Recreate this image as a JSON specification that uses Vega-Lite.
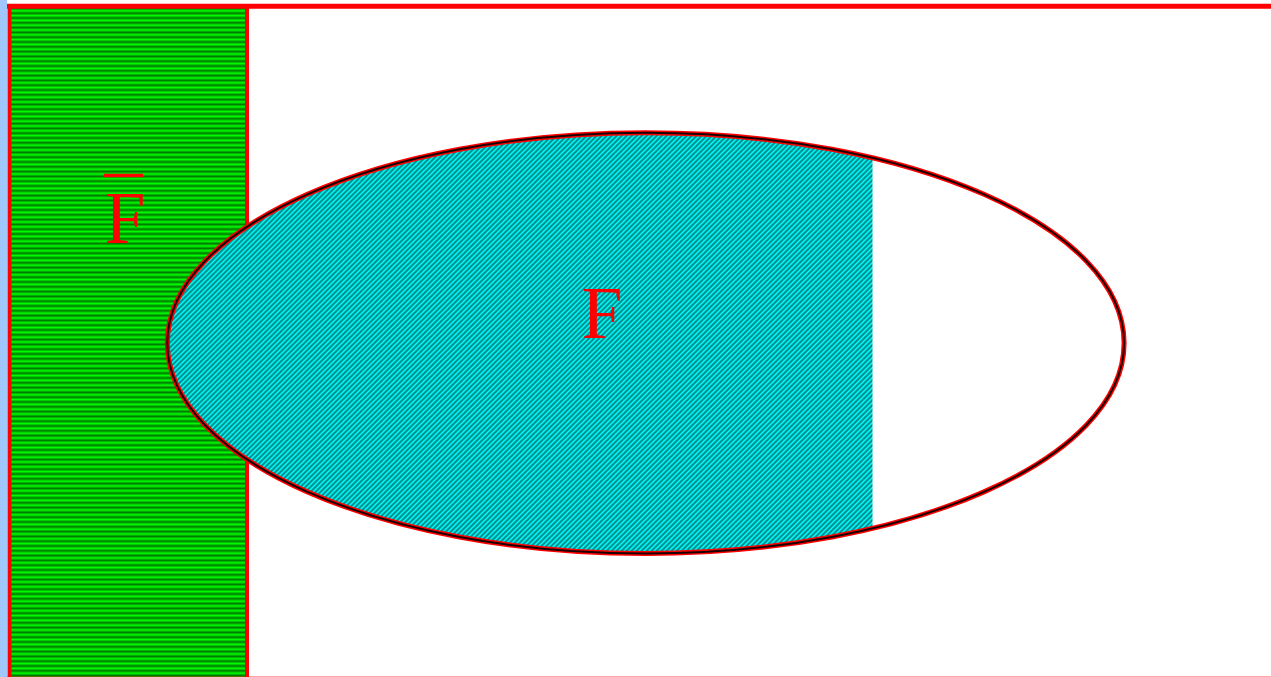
{
"$schema":"https://vega.github.io/schema/vega-lite/v6.json",
"width":1271,"height":677,
"autosize":{"type":"none"},
"padding":0,
"background":"white",
"config":{"view":{"stroke":null}},
"encoding":{
"x":{"field":"x","type":"quantitative","scale":{"domain":[0,1271],"nice":false,"zero":false},"axis":null},
"y":{"field":"y","type":"quantitative","scale":{"domain":[0,677],"nice":false,"zero":false,"reverse":true},"axis":null}
},
"layer":[
{"data":{"values":[{"x":0,"x2":7,"y":0,"y2":677}]},
"mark":{"type":"rect","fill":"#a0c8ff","strokeWidth":0},
"encoding":{"x2":{"field":"x2"},"y2":{"field":"y2"}}},
{"data":{"values":[{"x":9.5,"x2":247,"y":6,"y2":679}]},
"mark":{"type":"rect","stroke":"#ff0000","strokeWidth":4,"fill":{"gradient":"linear","x1":0,"y1":0,"x2":0,"y2":1.4264,"stops":[
{"offset":0,"color":"#0f0"},{"offset":0.0025,"color":"#070"},{"offset":0.005,"color":"#0f0"},{"offset":0.0075,"color":"#070"},
{"offset":0.01,"color":"#0f0"},{"offset":0.0125,"color":"#070"},{"offset":0.015,"color":"#0f0"},{"offset":0.0175,"color":"#070"},
{"offset":0.02,"color":"#0f0"},{"offset":0.0225,"color":"#070"},{"offset":0.025,"color":"#0f0"},{"offset":0.0275,"color":"#070"},
{"offset":0.03,"color":"#0f0"},{"offset":0.0325,"color":"#070"},{"offset":0.035,"color":"#0f0"},{"offset":0.0375,"color":"#070"},
{"offset":0.04,"color":"#0f0"},{"offset":0.0425,"color":"#070"},{"offset":0.045,"color":"#0f0"},{"offset":0.0475,"color":"#070"},
{"offset":0.05,"color":"#0f0"},{"offset":0.0525,"color":"#070"},{"offset":0.055,"color":"#0f0"},{"offset":0.0575,"color":"#070"},
{"offset":0.06,"color":"#0f0"},{"offset":0.0625,"color":"#070"},{"offset":0.065,"color":"#0f0"},{"offset":0.0675,"color":"#070"},
{"offset":0.07,"color":"#0f0"},{"offset":0.0725,"color":"#070"},{"offset":0.075,"color":"#0f0"},{"offset":0.0775,"color":"#070"},
{"offset":0.08,"color":"#0f0"},{"offset":0.0825,"color":"#070"},{"offset":0.085,"color":"#0f0"},{"offset":0.0875,"color":"#070"},
{"offset":0.09,"color":"#0f0"},{"offset":0.0925,"color":"#070"},{"offset":0.095,"color":"#0f0"},{"offset":0.0975,"color":"#070"},
{"offset":0.1,"color":"#0f0"},{"offset":0.1025,"color":"#070"},{"offset":0.105,"color":"#0f0"},{"offset":0.1075,"color":"#070"},
{"offset":0.11,"color":"#0f0"},{"offset":0.1125,"color":"#070"},{"offset":0.115,"color":"#0f0"},{"offset":0.1175,"color":"#070"},
{"offset":0.12,"color":"#0f0"},{"offset":0.1225,"color":"#070"},{"offset":0.125,"color":"#0f0"},{"offset":0.1275,"color":"#070"},
{"offset":0.13,"color":"#0f0"},{"offset":0.1325,"color":"#070"},{"offset":0.135,"color":"#0f0"},{"offset":0.1375,"color":"#070"},
{"offset":0.14,"color":"#0f0"},{"offset":0.1425,"color":"#070"},{"offset":0.145,"color":"#0f0"},{"offset":0.1475,"color":"#070"},
{"offset":0.15,"color":"#0f0"},{"offset":0.1525,"color":"#070"},{"offset":0.155,"color":"#0f0"},{"offset":0.1575,"color":"#070"},
{"offset":0.16,"color":"#0f0"},{"offset":0.1625,"color":"#070"},{"offset":0.165,"color":"#0f0"},{"offset":0.1675,"color":"#070"},
{"offset":0.17,"color":"#0f0"},{"offset":0.1725,"color":"#070"},{"offset":0.175,"color":"#0f0"},{"offset":0.1775,"color":"#070"},
{"offset":0.18,"color":"#0f0"},{"offset":0.1825,"color":"#070"},{"offset":0.185,"color":"#0f0"},{"offset":0.1875,"color":"#070"},
{"offset":0.19,"color":"#0f0"},{"offset":0.1925,"color":"#070"},{"offset":0.195,"color":"#0f0"},{"offset":0.1975,"color":"#070"},
{"offset":0.2,"color":"#0f0"},{"offset":0.2025,"color":"#070"},{"offset":0.205,"color":"#0f0"},{"offset":0.2075,"color":"#070"},
{"offset":0.21,"color":"#0f0"},{"offset":0.2125,"color":"#070"},{"offset":0.215,"color":"#0f0"},{"offset":0.2175,"color":"#070"},
{"offset":0.22,"color":"#0f0"},{"offset":0.2225,"color":"#070"},{"offset":0.225,"color":"#0f0"},{"offset":0.2275,"color":"#070"},
{"offset":0.23,"color":"#0f0"},{"offset":0.2325,"color":"#070"},{"offset":0.235,"color":"#0f0"},{"offset":0.2375,"color":"#070"},
{"offset":0.24,"color":"#0f0"},{"offset":0.2425,"color":"#070"},{"offset":0.245,"color":"#0f0"},{"offset":0.2475,"color":"#070"},
{"offset":0.25,"color":"#0f0"},{"offset":0.2525,"color":"#070"},{"offset":0.255,"color":"#0f0"},{"offset":0.2575,"color":"#070"},
{"offset":0.26,"color":"#0f0"},{"offset":0.2625,"color":"#070"},{"offset":0.265,"color":"#0f0"},{"offset":0.2675,"color":"#070"},
{"offset":0.27,"color":"#0f0"},{"offset":0.2725,"color":"#070"},{"offset":0.275,"color":"#0f0"},{"offset":0.2775,"color":"#070"},
{"offset":0.28,"color":"#0f0"},{"offset":0.2825,"color":"#070"},{"offset":0.285,"color":"#0f0"},{"offset":0.2875,"color":"#070"},
{"offset":0.29,"color":"#0f0"},{"offset":0.2925,"color":"#070"},{"offset":0.295,"color":"#0f0"},{"offset":0.2975,"color":"#070"},
{"offset":0.3,"color":"#0f0"},{"offset":0.3025,"color":"#070"},{"offset":0.305,"color":"#0f0"},{"offset":0.3075,"color":"#070"},
{"offset":0.31,"color":"#0f0"},{"offset":0.3125,"color":"#070"},{"offset":0.315,"color":"#0f0"},{"offset":0.3175,"color":"#070"},
{"offset":0.32,"color":"#0f0"},{"offset":0.3225,"color":"#070"},{"offset":0.325,"color":"#0f0"},{"offset":0.3275,"color":"#070"},
{"offset":0.33,"color":"#0f0"},{"offset":0.3325,"color":"#070"},{"offset":0.335,"color":"#0f0"},{"offset":0.3375,"color":"#070"},
{"offset":0.34,"color":"#0f0"},{"offset":0.3425,"color":"#070"},{"offset":0.345,"color":"#0f0"},{"offset":0.3475,"color":"#070"},
{"offset":0.35,"color":"#0f0"},{"offset":0.3525,"color":"#070"},{"offset":0.355,"color":"#0f0"},{"offset":0.3575,"color":"#070"},
{"offset":0.36,"color":"#0f0"},{"offset":0.3625,"color":"#070"},{"offset":0.365,"color":"#0f0"},{"offset":0.3675,"color":"#070"},
{"offset":0.37,"color":"#0f0"},{"offset":0.3725,"color":"#070"},{"offset":0.375,"color":"#0f0"},{"offset":0.3775,"color":"#070"},
{"offset":0.38,"color":"#0f0"},{"offset":0.3825,"color":"#070"},{"offset":0.385,"color":"#0f0"},{"offset":0.3875,"color":"#070"},
{"offset":0.39,"color":"#0f0"},{"offset":0.3925,"color":"#070"},{"offset":0.395,"color":"#0f0"},{"offset":0.3975,"color":"#070"},
{"offset":0.4,"color":"#0f0"},{"offset":0.4025,"color":"#070"},{"offset":0.405,"color":"#0f0"},{"offset":0.4075,"color":"#070"},
{"offset":0.41,"color":"#0f0"},{"offset":0.4125,"color":"#070"},{"offset":0.415,"color":"#0f0"},{"offset":0.4175,"color":"#070"},
{"offset":0.42,"color":"#0f0"},{"offset":0.4225,"color":"#070"},{"offset":0.425,"color":"#0f0"},{"offset":0.4275,"color":"#070"},
{"offset":0.43,"color":"#0f0"},{"offset":0.4325,"color":"#070"},{"offset":0.435,"color":"#0f0"},{"offset":0.4375,"color":"#070"},
{"offset":0.44,"color":"#0f0"},{"offset":0.4425,"color":"#070"},{"offset":0.445,"color":"#0f0"},{"offset":0.4475,"color":"#070"},
{"offset":0.45,"color":"#0f0"},{"offset":0.4525,"color":"#070"},{"offset":0.455,"color":"#0f0"},{"offset":0.4575,"color":"#070"},
{"offset":0.46,"color":"#0f0"},{"offset":0.4625,"color":"#070"},{"offset":0.465,"color":"#0f0"},{"offset":0.4675,"color":"#070"},
{"offset":0.47,"color":"#0f0"},{"offset":0.4725,"color":"#070"},{"offset":0.475,"color":"#0f0"},{"offset":0.4775,"color":"#070"},
{"offset":0.48,"color":"#0f0"},{"offset":0.4825,"color":"#070"},{"offset":0.485,"color":"#0f0"},{"offset":0.4875,"color":"#070"},
{"offset":0.49,"color":"#0f0"},{"offset":0.4925,"color":"#070"},{"offset":0.495,"color":"#0f0"},{"offset":0.4975,"color":"#070"},
{"offset":0.5,"color":"#0f0"},{"offset":0.5025,"color":"#070"},{"offset":0.505,"color":"#0f0"},{"offset":0.5075,"color":"#070"},
{"offset":0.51,"color":"#0f0"},{"offset":0.5125,"color":"#070"},{"offset":0.515,"color":"#0f0"},{"offset":0.5175,"color":"#070"},
{"offset":0.52,"color":"#0f0"},{"offset":0.5225,"color":"#070"},{"offset":0.525,"color":"#0f0"},{"offset":0.5275,"color":"#070"},
{"offset":0.53,"color":"#0f0"},{"offset":0.5325,"color":"#070"},{"offset":0.535,"color":"#0f0"},{"offset":0.5375,"color":"#070"},
{"offset":0.54,"color":"#0f0"},{"offset":0.5425,"color":"#070"},{"offset":0.545,"color":"#0f0"},{"offset":0.5475,"color":"#070"},
{"offset":0.55,"color":"#0f0"},{"offset":0.5525,"color":"#070"},{"offset":0.555,"color":"#0f0"},{"offset":0.5575,"color":"#070"},
{"offset":0.56,"color":"#0f0"},{"offset":0.5625,"color":"#070"},{"offset":0.565,"color":"#0f0"},{"offset":0.5675,"color":"#070"},
{"offset":0.57,"color":"#0f0"},{"offset":0.5725,"color":"#070"},{"offset":0.575,"color":"#0f0"},{"offset":0.5775,"color":"#070"},
{"offset":0.58,"color":"#0f0"},{"offset":0.5825,"color":"#070"},{"offset":0.585,"color":"#0f0"},{"offset":0.5875,"color":"#070"},
{"offset":0.59,"color":"#0f0"},{"offset":0.5925,"color":"#070"},{"offset":0.595,"color":"#0f0"},{"offset":0.5975,"color":"#070"},
{"offset":0.6,"color":"#0f0"},{"offset":0.6025,"color":"#070"},{"offset":0.605,"color":"#0f0"},{"offset":0.6075,"color":"#070"},
{"offset":0.61,"color":"#0f0"},{"offset":0.6125,"color":"#070"},{"offset":0.615,"color":"#0f0"},{"offset":0.6175,"color":"#070"},
{"offset":0.62,"color":"#0f0"},{"offset":0.6225,"color":"#070"},{"offset":0.625,"color":"#0f0"},{"offset":0.6275,"color":"#070"},
{"offset":0.63,"color":"#0f0"},{"offset":0.6325,"color":"#070"},{"offset":0.635,"color":"#0f0"},{"offset":0.6375,"color":"#070"},
{"offset":0.64,"color":"#0f0"},{"offset":0.6425,"color":"#070"},{"offset":0.645,"color":"#0f0"},{"offset":0.6475,"color":"#070"},
{"offset":0.65,"color":"#0f0"},{"offset":0.6525,"color":"#070"},{"offset":0.655,"color":"#0f0"},{"offset":0.6575,"color":"#070"},
{"offset":0.66,"color":"#0f0"},{"offset":0.6625,"color":"#070"},{"offset":0.665,"color":"#0f0"},{"offset":0.6675,"color":"#070"},
{"offset":0.67,"color":"#0f0"},{"offset":0.6725,"color":"#070"},{"offset":0.675,"color":"#0f0"},{"offset":0.6775,"color":"#070"},
{"offset":0.68,"color":"#0f0"},{"offset":0.6825,"color":"#070"},{"offset":0.685,"color":"#0f0"},{"offset":0.6875,"color":"#070"},
{"offset":0.69,"color":"#0f0"},{"offset":0.6925,"color":"#070"},{"offset":0.695,"color":"#0f0"},{"offset":0.6975,"color":"#070"},
{"offset":0.7,"color":"#0f0"},{"offset":0.7025,"color":"#070"}
]}},
"encoding":{"x2":{"field":"x2"},"y2":{"field":"y2"}}},
{"data":{"values":[{"x":645.7,"y":343.1}]},
"mark":{"type":"point","shape":"M0.4741,-0.3872A1,0.4398,0,1,0,0.4741,0.3872Z","size":915466,"filled":true,"opacity":1,"strokeWidth":0,"fill":{"gradient":"linear","x1":0,"y1":0,"x2":1.3071,"y2":0.78,"stops":[
{"offset":0,"color":"#0ff"},{"offset":0.002,"color":"#077"},{"offset":0.004,"color":"#0ff"},{"offset":0.006,"color":"#077"},{"offset":0.008,"color":"#0ff"},
{"offset":0.01,"color":"#077"},{"offset":0.012,"color":"#0ff"},{"offset":0.014,"color":"#077"},{"offset":0.016,"color":"#0ff"},{"offset":0.018,"color":"#077"},
{"offset":0.02,"color":"#0ff"},{"offset":0.022,"color":"#077"},{"offset":0.024,"color":"#0ff"},{"offset":0.026,"color":"#077"},{"offset":0.028,"color":"#0ff"},
{"offset":0.03,"color":"#077"},{"offset":0.032,"color":"#0ff"},{"offset":0.034,"color":"#077"},{"offset":0.036,"color":"#0ff"},{"offset":0.038,"color":"#077"},
{"offset":0.04,"color":"#0ff"},{"offset":0.042,"color":"#077"},{"offset":0.044,"color":"#0ff"},{"offset":0.046,"color":"#077"},{"offset":0.048,"color":"#0ff"},
{"offset":0.05,"color":"#077"},{"offset":0.052,"color":"#0ff"},{"offset":0.054,"color":"#077"},{"offset":0.056,"color":"#0ff"},{"offset":0.058,"color":"#077"},
{"offset":0.06,"color":"#0ff"},{"offset":0.062,"color":"#077"},{"offset":0.064,"color":"#0ff"},{"offset":0.066,"color":"#077"},{"offset":0.068,"color":"#0ff"},
{"offset":0.07,"color":"#077"},{"offset":0.072,"color":"#0ff"},{"offset":0.074,"color":"#077"},{"offset":0.076,"color":"#0ff"},{"offset":0.078,"color":"#077"},
{"offset":0.08,"color":"#0ff"},{"offset":0.082,"color":"#077"},{"offset":0.084,"color":"#0ff"},{"offset":0.086,"color":"#077"},{"offset":0.088,"color":"#0ff"},
{"offset":0.09,"color":"#077"},{"offset":0.092,"color":"#0ff"},{"offset":0.094,"color":"#077"},{"offset":0.096,"color":"#0ff"},{"offset":0.098,"color":"#077"},
{"offset":0.1,"color":"#0ff"},{"offset":0.102,"color":"#077"},{"offset":0.104,"color":"#0ff"},{"offset":0.106,"color":"#077"},{"offset":0.108,"color":"#0ff"},
{"offset":0.11,"color":"#077"},{"offset":0.112,"color":"#0ff"},{"offset":0.114,"color":"#077"},{"offset":0.116,"color":"#0ff"},{"offset":0.118,"color":"#077"},
{"offset":0.12,"color":"#0ff"},{"offset":0.122,"color":"#077"},{"offset":0.124,"color":"#0ff"},{"offset":0.126,"color":"#077"},{"offset":0.128,"color":"#0ff"},
{"offset":0.13,"color":"#077"},{"offset":0.132,"color":"#0ff"},{"offset":0.134,"color":"#077"},{"offset":0.136,"color":"#0ff"},{"offset":0.138,"color":"#077"},
{"offset":0.14,"color":"#0ff"},{"offset":0.142,"color":"#077"},{"offset":0.144,"color":"#0ff"},{"offset":0.146,"color":"#077"},{"offset":0.148,"color":"#0ff"},
{"offset":0.15,"color":"#077"},{"offset":0.152,"color":"#0ff"},{"offset":0.154,"color":"#077"},{"offset":0.156,"color":"#0ff"},{"offset":0.158,"color":"#077"},
{"offset":0.16,"color":"#0ff"},{"offset":0.162,"color":"#077"},{"offset":0.164,"color":"#0ff"},{"offset":0.166,"color":"#077"},{"offset":0.168,"color":"#0ff"},
{"offset":0.17,"color":"#077"},{"offset":0.172,"color":"#0ff"},{"offset":0.174,"color":"#077"},{"offset":0.176,"color":"#0ff"},{"offset":0.178,"color":"#077"},
{"offset":0.18,"color":"#0ff"},{"offset":0.182,"color":"#077"},{"offset":0.184,"color":"#0ff"},{"offset":0.186,"color":"#077"},{"offset":0.188,"color":"#0ff"},
{"offset":0.19,"color":"#077"},{"offset":0.192,"color":"#0ff"},{"offset":0.194,"color":"#077"},{"offset":0.196,"color":"#0ff"},{"offset":0.198,"color":"#077"},
{"offset":0.2,"color":"#0ff"},{"offset":0.202,"color":"#077"},{"offset":0.204,"color":"#0ff"},{"offset":0.206,"color":"#077"},{"offset":0.208,"color":"#0ff"},
{"offset":0.21,"color":"#077"},{"offset":0.212,"color":"#0ff"},{"offset":0.214,"color":"#077"},{"offset":0.216,"color":"#0ff"},{"offset":0.218,"color":"#077"},
{"offset":0.22,"color":"#0ff"},{"offset":0.222,"color":"#077"},{"offset":0.224,"color":"#0ff"},{"offset":0.226,"color":"#077"},{"offset":0.228,"color":"#0ff"},
{"offset":0.23,"color":"#077"},{"offset":0.232,"color":"#0ff"},{"offset":0.234,"color":"#077"},{"offset":0.236,"color":"#0ff"},{"offset":0.238,"color":"#077"},
{"offset":0.24,"color":"#0ff"},{"offset":0.242,"color":"#077"},{"offset":0.244,"color":"#0ff"},{"offset":0.246,"color":"#077"},{"offset":0.248,"color":"#0ff"},
{"offset":0.25,"color":"#077"},{"offset":0.252,"color":"#0ff"},{"offset":0.254,"color":"#077"},{"offset":0.256,"color":"#0ff"},{"offset":0.258,"color":"#077"},
{"offset":0.26,"color":"#0ff"},{"offset":0.262,"color":"#077"},{"offset":0.264,"color":"#0ff"},{"offset":0.266,"color":"#077"},{"offset":0.268,"color":"#0ff"},
{"offset":0.27,"color":"#077"},{"offset":0.272,"color":"#0ff"},{"offset":0.274,"color":"#077"},{"offset":0.276,"color":"#0ff"},{"offset":0.278,"color":"#077"},
{"offset":0.28,"color":"#0ff"},{"offset":0.282,"color":"#077"},{"offset":0.284,"color":"#0ff"},{"offset":0.286,"color":"#077"},{"offset":0.288,"color":"#0ff"},
{"offset":0.29,"color":"#077"},{"offset":0.292,"color":"#0ff"},{"offset":0.294,"color":"#077"},{"offset":0.296,"color":"#0ff"},{"offset":0.298,"color":"#077"},
{"offset":0.3,"color":"#0ff"},{"offset":0.302,"color":"#077"},{"offset":0.304,"color":"#0ff"},{"offset":0.306,"color":"#077"},{"offset":0.308,"color":"#0ff"},
{"offset":0.31,"color":"#077"},{"offset":0.312,"color":"#0ff"},{"offset":0.314,"color":"#077"},{"offset":0.316,"color":"#0ff"},{"offset":0.318,"color":"#077"},
{"offset":0.32,"color":"#0ff"},{"offset":0.322,"color":"#077"},{"offset":0.324,"color":"#0ff"},{"offset":0.326,"color":"#077"},{"offset":0.328,"color":"#0ff"},
{"offset":0.33,"color":"#077"},{"offset":0.332,"color":"#0ff"},{"offset":0.334,"color":"#077"},{"offset":0.336,"color":"#0ff"},{"offset":0.338,"color":"#077"},
{"offset":0.34,"color":"#0ff"},{"offset":0.342,"color":"#077"},{"offset":0.344,"color":"#0ff"},{"offset":0.346,"color":"#077"},{"offset":0.348,"color":"#0ff"},
{"offset":0.35,"color":"#077"},{"offset":0.352,"color":"#0ff"},{"offset":0.354,"color":"#077"},{"offset":0.356,"color":"#0ff"},{"offset":0.358,"color":"#077"},
{"offset":0.36,"color":"#0ff"},{"offset":0.362,"color":"#077"},{"offset":0.364,"color":"#0ff"},{"offset":0.366,"color":"#077"},{"offset":0.368,"color":"#0ff"},
{"offset":0.37,"color":"#077"},{"offset":0.372,"color":"#0ff"},{"offset":0.374,"color":"#077"},{"offset":0.376,"color":"#0ff"},{"offset":0.378,"color":"#077"},
{"offset":0.38,"color":"#0ff"},{"offset":0.382,"color":"#077"},{"offset":0.384,"color":"#0ff"},{"offset":0.386,"color":"#077"},{"offset":0.388,"color":"#0ff"},
{"offset":0.39,"color":"#077"},{"offset":0.392,"color":"#0ff"},{"offset":0.394,"color":"#077"},{"offset":0.396,"color":"#0ff"},{"offset":0.398,"color":"#077"},
{"offset":0.4,"color":"#0ff"},{"offset":0.402,"color":"#077"},{"offset":0.404,"color":"#0ff"},{"offset":0.406,"color":"#077"},{"offset":0.408,"color":"#0ff"},
{"offset":0.41,"color":"#077"},{"offset":0.412,"color":"#0ff"},{"offset":0.414,"color":"#077"},{"offset":0.416,"color":"#0ff"},{"offset":0.418,"color":"#077"},
{"offset":0.42,"color":"#0ff"},{"offset":0.422,"color":"#077"},{"offset":0.424,"color":"#0ff"},{"offset":0.426,"color":"#077"},{"offset":0.428,"color":"#0ff"},
{"offset":0.43,"color":"#077"},{"offset":0.432,"color":"#0ff"},{"offset":0.434,"color":"#077"},{"offset":0.436,"color":"#0ff"},{"offset":0.438,"color":"#077"},
{"offset":0.44,"color":"#0ff"},{"offset":0.442,"color":"#077"},{"offset":0.444,"color":"#0ff"},{"offset":0.446,"color":"#077"},{"offset":0.448,"color":"#0ff"},
{"offset":0.45,"color":"#077"},{"offset":0.452,"color":"#0ff"},{"offset":0.454,"color":"#077"},{"offset":0.456,"color":"#0ff"},{"offset":0.458,"color":"#077"},
{"offset":0.46,"color":"#0ff"},{"offset":0.462,"color":"#077"},{"offset":0.464,"color":"#0ff"},{"offset":0.466,"color":"#077"},{"offset":0.468,"color":"#0ff"},
{"offset":0.47,"color":"#077"},{"offset":0.472,"color":"#0ff"},{"offset":0.474,"color":"#077"},{"offset":0.476,"color":"#0ff"},{"offset":0.478,"color":"#077"},
{"offset":0.48,"color":"#0ff"},{"offset":0.482,"color":"#077"},{"offset":0.484,"color":"#0ff"},{"offset":0.486,"color":"#077"},{"offset":0.488,"color":"#0ff"},
{"offset":0.49,"color":"#077"},{"offset":0.492,"color":"#0ff"},{"offset":0.494,"color":"#077"},{"offset":0.496,"color":"#0ff"},{"offset":0.498,"color":"#077"},
{"offset":0.5,"color":"#0ff"},{"offset":0.502,"color":"#077"},{"offset":0.504,"color":"#0ff"},{"offset":0.506,"color":"#077"},{"offset":0.508,"color":"#0ff"},
{"offset":0.51,"color":"#077"},{"offset":0.512,"color":"#0ff"},{"offset":0.514,"color":"#077"},{"offset":0.516,"color":"#0ff"},{"offset":0.518,"color":"#077"},
{"offset":0.52,"color":"#0ff"},{"offset":0.522,"color":"#077"},{"offset":0.524,"color":"#0ff"},{"offset":0.526,"color":"#077"},{"offset":0.528,"color":"#0ff"},
{"offset":0.53,"color":"#077"},{"offset":0.532,"color":"#0ff"},{"offset":0.534,"color":"#077"},{"offset":0.536,"color":"#0ff"},{"offset":0.538,"color":"#077"},
{"offset":0.54,"color":"#0ff"},{"offset":0.542,"color":"#077"},{"offset":0.544,"color":"#0ff"},{"offset":0.546,"color":"#077"},{"offset":0.548,"color":"#0ff"},
{"offset":0.55,"color":"#077"},{"offset":0.552,"color":"#0ff"},{"offset":0.554,"color":"#077"},{"offset":0.556,"color":"#0ff"},{"offset":0.558,"color":"#077"},
{"offset":0.56,"color":"#0ff"},{"offset":0.562,"color":"#077"},{"offset":0.564,"color":"#0ff"},{"offset":0.566,"color":"#077"},{"offset":0.568,"color":"#0ff"},
{"offset":0.57,"color":"#077"},{"offset":0.572,"color":"#0ff"},{"offset":0.574,"color":"#077"},{"offset":0.576,"color":"#0ff"},{"offset":0.578,"color":"#077"},
{"offset":0.58,"color":"#0ff"},{"offset":0.582,"color":"#077"},{"offset":0.584,"color":"#0ff"},{"offset":0.586,"color":"#077"},{"offset":0.588,"color":"#0ff"},
{"offset":0.59,"color":"#077"},{"offset":0.592,"color":"#0ff"},{"offset":0.594,"color":"#077"},{"offset":0.596,"color":"#0ff"},{"offset":0.598,"color":"#077"},
{"offset":0.6,"color":"#0ff"},{"offset":0.602,"color":"#077"},{"offset":0.604,"color":"#0ff"},{"offset":0.606,"color":"#077"},{"offset":0.608,"color":"#0ff"},
{"offset":0.61,"color":"#077"},{"offset":0.612,"color":"#0ff"},{"offset":0.614,"color":"#077"},{"offset":0.616,"color":"#0ff"},{"offset":0.618,"color":"#077"},
{"offset":0.62,"color":"#0ff"},{"offset":0.622,"color":"#077"},{"offset":0.624,"color":"#0ff"},{"offset":0.626,"color":"#077"},{"offset":0.628,"color":"#0ff"},
{"offset":0.63,"color":"#077"},{"offset":0.632,"color":"#0ff"},{"offset":0.634,"color":"#077"},{"offset":0.636,"color":"#0ff"},{"offset":0.638,"color":"#077"},
{"offset":0.64,"color":"#0ff"},{"offset":0.642,"color":"#077"},{"offset":0.644,"color":"#0ff"},{"offset":0.646,"color":"#077"},{"offset":0.648,"color":"#0ff"},
{"offset":0.65,"color":"#077"},{"offset":0.652,"color":"#0ff"},{"offset":0.654,"color":"#077"},{"offset":0.656,"color":"#0ff"},{"offset":0.658,"color":"#077"},
{"offset":0.66,"color":"#0ff"},{"offset":0.662,"color":"#077"},{"offset":0.664,"color":"#0ff"},{"offset":0.666,"color":"#077"},{"offset":0.668,"color":"#0ff"},
{"offset":0.67,"color":"#077"},{"offset":0.672,"color":"#0ff"},{"offset":0.674,"color":"#077"},{"offset":0.676,"color":"#0ff"},{"offset":0.678,"color":"#077"},
{"offset":0.68,"color":"#0ff"},{"offset":0.682,"color":"#077"},{"offset":0.684,"color":"#0ff"},{"offset":0.686,"color":"#077"},{"offset":0.688,"color":"#0ff"},
{"offset":0.69,"color":"#077"},{"offset":0.692,"color":"#0ff"},{"offset":0.694,"color":"#077"},{"offset":0.696,"color":"#0ff"},{"offset":0.698,"color":"#077"},
{"offset":0.7,"color":"#0ff"},{"offset":0.702,"color":"#077"},{"offset":0.704,"color":"#0ff"},{"offset":0.706,"color":"#077"},{"offset":0.708,"color":"#0ff"},
{"offset":0.71,"color":"#077"},{"offset":0.712,"color":"#0ff"},{"offset":0.714,"color":"#077"},{"offset":0.716,"color":"#0ff"},{"offset":0.718,"color":"#077"},
{"offset":0.72,"color":"#0ff"},{"offset":0.722,"color":"#077"},{"offset":0.724,"color":"#0ff"},{"offset":0.726,"color":"#077"},{"offset":0.728,"color":"#0ff"},
{"offset":0.73,"color":"#077"},{"offset":0.732,"color":"#0ff"},{"offset":0.734,"color":"#077"},{"offset":0.736,"color":"#0ff"},{"offset":0.738,"color":"#077"},
{"offset":0.74,"color":"#0ff"},{"offset":0.742,"color":"#077"},{"offset":0.744,"color":"#0ff"},{"offset":0.746,"color":"#077"},{"offset":0.748,"color":"#0ff"},
{"offset":0.75,"color":"#077"},{"offset":0.752,"color":"#0ff"},{"offset":0.754,"color":"#077"},{"offset":0.756,"color":"#0ff"},{"offset":0.758,"color":"#077"},
{"offset":0.76,"color":"#0ff"},{"offset":0.762,"color":"#077"},{"offset":0.764,"color":"#0ff"},{"offset":0.766,"color":"#077"},{"offset":0.768,"color":"#0ff"},
{"offset":0.77,"color":"#077"},{"offset":0.772,"color":"#0ff"},{"offset":0.774,"color":"#077"},{"offset":0.776,"color":"#0ff"},{"offset":0.778,"color":"#077"},
{"offset":0.78,"color":"#0ff"},{"offset":0.782,"color":"#077"},{"offset":0.784,"color":"#0ff"},{"offset":0.786,"color":"#077"},{"offset":0.788,"color":"#0ff"},
{"offset":0.79,"color":"#077"},{"offset":0.792,"color":"#0ff"},{"offset":0.794,"color":"#077"},{"offset":0.796,"color":"#0ff"},{"offset":0.798,"color":"#077"},
{"offset":0.8,"color":"#0ff"},{"offset":0.802,"color":"#077"},{"offset":0.804,"color":"#0ff"},{"offset":0.806,"color":"#077"},{"offset":0.808,"color":"#0ff"},
{"offset":0.81,"color":"#077"},{"offset":0.812,"color":"#0ff"},{"offset":0.814,"color":"#077"},{"offset":0.816,"color":"#0ff"},{"offset":0.818,"color":"#077"},
{"offset":0.82,"color":"#0ff"},{"offset":0.822,"color":"#077"},{"offset":0.824,"color":"#0ff"},{"offset":0.826,"color":"#077"},{"offset":0.828,"color":"#0ff"},
{"offset":0.83,"color":"#077"},{"offset":0.832,"color":"#0ff"},{"offset":0.834,"color":"#077"},{"offset":0.836,"color":"#0ff"},{"offset":0.838,"color":"#077"},
{"offset":0.84,"color":"#0ff"},{"offset":0.842,"color":"#077"},{"offset":0.844,"color":"#0ff"},{"offset":0.846,"color":"#077"},{"offset":0.848,"color":"#0ff"},
{"offset":0.85,"color":"#077"},{"offset":0.852,"color":"#0ff"},{"offset":0.854,"color":"#077"},{"offset":0.856,"color":"#0ff"},{"offset":0.858,"color":"#077"},
{"offset":0.86,"color":"#0ff"},{"offset":0.862,"color":"#077"},{"offset":0.864,"color":"#0ff"},{"offset":0.866,"color":"#077"},{"offset":0.868,"color":"#0ff"},
{"offset":0.87,"color":"#077"},{"offset":0.872,"color":"#0ff"},{"offset":0.874,"color":"#077"},{"offset":0.876,"color":"#0ff"},{"offset":0.878,"color":"#077"},
{"offset":0.88,"color":"#0ff"},{"offset":0.882,"color":"#077"},{"offset":0.884,"color":"#0ff"},{"offset":0.886,"color":"#077"},{"offset":0.888,"color":"#0ff"},
{"offset":0.89,"color":"#077"},{"offset":0.892,"color":"#0ff"},{"offset":0.894,"color":"#077"},{"offset":0.896,"color":"#0ff"},{"offset":0.898,"color":"#077"},
{"offset":0.9,"color":"#0ff"},{"offset":0.902,"color":"#077"}
]}}},
{"data":{"values":[{"x":645.7,"y":343.1}]},
"mark":{"type":"point","shape":"M-1,0A1,0.4398,0,1,0,1,0A1,0.4398,0,1,0,-1,0Z","size":915466,"filled":false,"opacity":1,"stroke":"#ff0000","strokeWidth":5}},
{"data":{"values":[{"x":645.7,"y":343.1}]},
"mark":{"type":"point","shape":"M-1,0A1,0.4398,0,1,0,1,0A1,0.4398,0,1,0,-1,0Z","size":915466,"filled":false,"opacity":1,"stroke":"#1a0000","strokeWidth":2}},
{"data":{"values":[{"x":7,"x2":1271,"y":6.3}]},
"mark":{"type":"rule","color":"#ff0000","strokeWidth":5},
"encoding":{"x2":{"field":"x2"}}},
{"data":{"values":[{"x":7,"x2":1271,"y":676.5}]},
"mark":{"type":"rule","color":"#ff0000","strokeWidth":1,"opacity":0.35},
"encoding":{"x2":{"field":"x2"}}},
{"data":{"values":[{"x":104,"x2":143,"y":175.5}]},
"mark":{"type":"rule","color":"#ff0000","strokeWidth":3.5},
"encoding":{"x2":{"field":"x2"}}},
{"data":{"values":[{"x":125,"y":243,"label":"F"},{"x":602,"y":338,"label":"F"}]},
"mark":{"type":"text","font":"Liberation Serif","fontSize":73,"color":"#ff0000","align":"center","baseline":"alphabetic"},
"encoding":{"text":{"field":"label"}}}
]
}
